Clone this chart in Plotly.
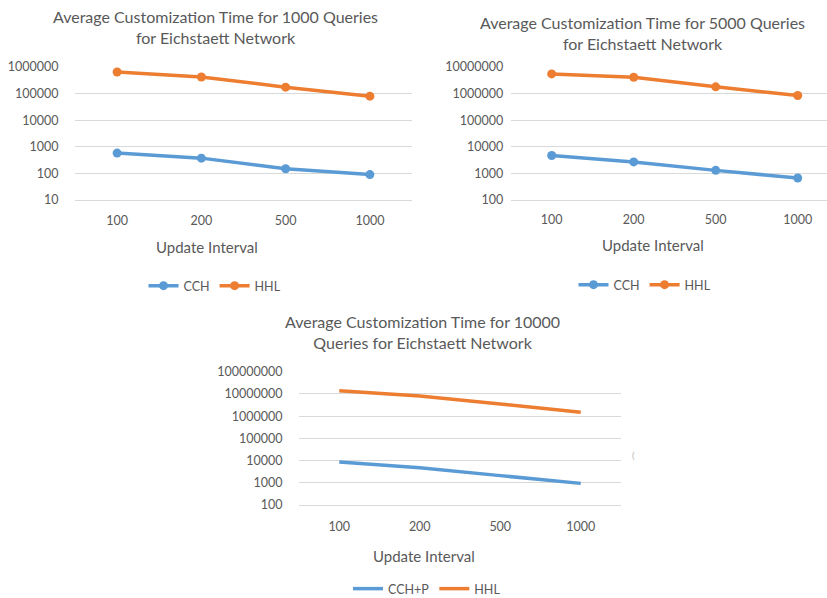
import plotly.graph_objects as go

# Update intervals shared by all three panels
intervals = ["100", "200", "500", "1000"]

# 1000 queries
cch_1000 = [580, 375, 150, 90]
hhl_1000 = [650000, 420000, 175000, 80000]

# 5000 queries
cch_5000 = [4700, 2700, 1300, 670]
hhl_5000 = [5500000, 4100000, 1800000, 850000]

# 10000 queries
cchp_10000 = [8700, 4800, 2100, 940]
hhl_10000 = [14000000, 8100000, 3500000, 1500000]

titles = [
    "Average Customization Time for 1000 Queries<br>for Eichstaett Network",
    "Average Customization Time for 5000 Queries<br>for Eichstaett Network",
    "Average Customization Time for 10000<br>Queries for Eichstaett Network",
]

BLUE = "#5B9BD5"
ORANGE = "#ED7D31"
GRID = "#D9D9D9"
TEXT = "#595959"
FONT = "Lato"
W, H = 827, 598


def px(x):
    return x / W


def py(y):
    return 1 - y / H


fig = go.Figure()

# panel: (xaxis id, yaxis id, legend id, series, markers)
panels = [
    ("x", "y", "legend", [("CCH", cch_1000, BLUE), ("HHL", hhl_1000, ORANGE)], True),
    ("x2", "y2", "legend2", [("CCH", cch_5000, BLUE), ("HHL", hhl_5000, ORANGE)], True),
    ("x3", "y3", "legend3", [("CCH+P", cchp_10000, BLUE), ("HHL", hhl_10000, ORANGE)], False),
]

for xa, ya, lg, series, markers in panels:
    for name, vals, col in series:
        fig.add_trace(go.Scatter(
            x=list(range(len(intervals))), y=vals, name=name,
            mode="lines+markers" if markers else "lines",
            line=dict(color=col, width=3.5),
            marker=dict(size=9, color=col),
            xaxis=xa, yaxis=ya, legend=lg,
        ))

axis_common = dict(showgrid=False, zeroline=False, automargin=False,
                   tickfont=dict(family=FONT, size=12.5, color=TEXT))
xcommon = dict(axis_common, tickmode="array", tickvals=list(range(len(intervals))), ticktext=intervals,
               ticks="outside", tickcolor="rgba(0,0,0,0)", showline=True, linecolor=GRID, linewidth=1)
ycommon = dict(axis_common, type="log", dtick=1, tickformat="d", showgrid=True, gridcolor=GRID,
               gridwidth=1, ticks="outside", tickcolor="rgba(0,0,0,0)")

fig.update_layout(
    width=W, height=H, margin=dict(l=0, r=0, t=0, b=0, pad=0, autoexpand=False),
    paper_bgcolor="white", plot_bgcolor="white",
    font=dict(family=FONT, color=TEXT),
    xaxis=dict(xcommon, domain=[px(75), px(412)], range=[-0.5, 3.5], anchor="y", ticklen=9),
    yaxis=dict(ycommon, domain=[py(200), py(67)], range=[1, 6], anchor="x", ticklen=13),
    xaxis2=dict(xcommon, domain=[px(510.7), 1], range=[-0.5, 3.357], anchor="y2", ticklen=8),
    yaxis2=dict(ycommon, domain=[py(200), py(67)], range=[2, 7], anchor="x2", ticklen=4),
    xaxis3=dict(xcommon, domain=[px(299), px(621)], range=[-0.5, 3.5], anchor="y3", ticklen=10),
    yaxis3=dict(ycommon, domain=[py(505), py(371.7)], range=[2, 8], anchor="x3", ticklen=13),
)

legend_style = dict(orientation="h", xanchor="center", yanchor="middle", itemwidth=30,
                    font=dict(family=FONT, size=12.5, color=TEXT), bgcolor="rgba(0,0,0,0)",
                    tracegroupgap=0)
fig.update_layout(
    legend=dict(legend_style, x=px(215), y=py(286)),
    legend2=dict(legend_style, x=px(645), y=py(285)),
    legend3=dict(legend_style, x=px(427), y=py(589)),
)

# Chart titles and axis titles
title_pos = [(215, 26.5), (642, 32.5), (423, 331.5)]
for t, (tx, ty) in zip(titles, title_pos):
    fig.add_annotation(text=t, x=px(tx), y=py(ty), xref="paper", yref="paper",
                       xanchor="center", yanchor="middle", showarrow=False,
                       font=dict(family=FONT, size=16, color=TEXT))

for tx, ty in [(207, 247), (653, 245), (424, 556)]:
    fig.add_annotation(text="Update Interval", x=px(tx), y=py(ty), xref="paper", yref="paper",
                       xanchor="center", yanchor="middle", showarrow=False,
                       font=dict(family=FONT, size=15, color=TEXT))

fig.add_annotation(text="(", x=px(633), y=py(455), xref="paper", yref="paper",
                   xanchor="center", yanchor="middle", showarrow=False,
                   font=dict(family=FONT, size=10, color="#BBBBBB"))

fig.write_html("out.html")
